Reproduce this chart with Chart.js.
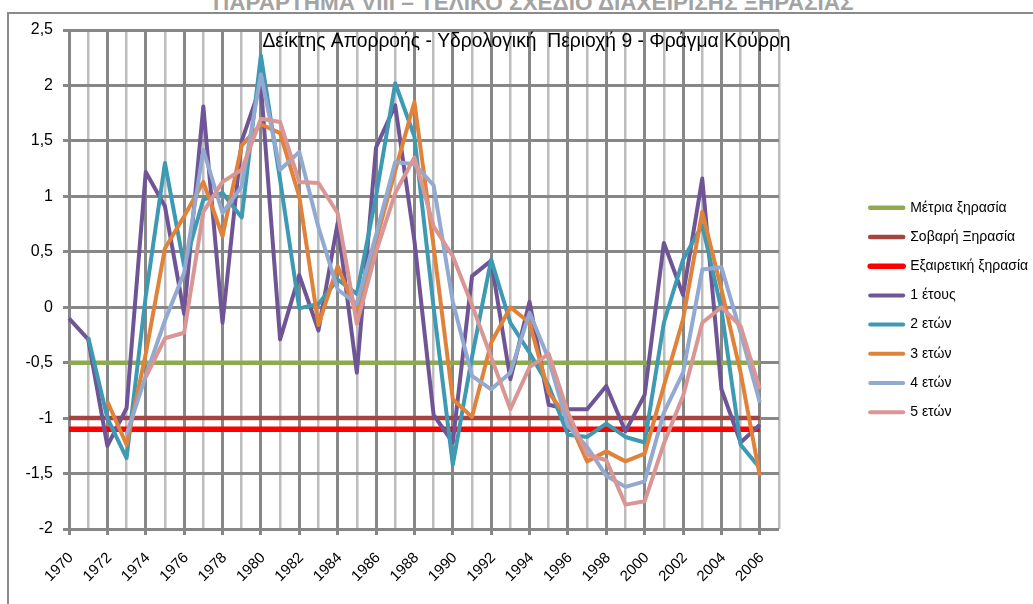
<!DOCTYPE html>
<html>
<head>
<meta charset="utf-8">
<script src="https://cdn.jsdelivr.net/npm/chart.js@4.4.1/dist/chart.umd.min.js"></script>
<style>
  html, body { margin: 0; padding: 0; background: #fff; }
  body { width: 1033px; height: 604px; overflow: hidden; position: relative; }
  #hdr { position: absolute; left: 213px; top: -8px; font: bold 22.5px "Liberation Sans", Arial, sans-serif; line-height: 22px; color: #a3a3a3; white-space: nowrap; }
  #frame { position: absolute; left: 7px; top: 12px; width: 1100px; height: 700px; border: 2px solid #8a8a8a; background: #fff; }
  #c { position: absolute; left: 0; top: 0; }
</style>
</head>
<body>
<div id="hdr">ΠΑΡΑΡΤΗΜΑ VIII – ΤΕΛΙΚΟ ΣΧΕΔΙΟ ΔΙΑΧΕΙΡΙΣΗΣ ΞΗΡΑΣΙΑΣ</div>
<div id="frame"></div>
<canvas id="c" width="1033" height="604"></canvas>
<script>
// ---------- data ----------
const years = ['1970','1971','1972','1973','1974','1975','1976','1977','1978','1979',
               '1980','1981','1982','1983','1984','1985','1986','1987','1988','1989',
               '1990','1991','1992','1993','1994','1995','1996','1997','1998','1999',
               '2000','2001','2002','2003','2004','2005','2006','2007'];

const chartTitle = 'Δείκτης Απορροής - Υδρολογική  Περιοχή 9 - Φράγμα Κούρρη';

const thresholdLabels = ['Μέτρια ξηρασία', 'Σοβαρή Ξηρασία', 'Εξαιρετική ξηρασία'];
const thresholdLevels = [-0.5, -1.0, -1.1];
const thresholdSpan = ['1970', '2006'];

const seriesLabels = ['1 έτους', '2 ετών', '3 ετών', '4 ετών', '5 ετών'];

const idx1 = [-0.10, -0.29, -1.25, -0.91, 1.22, 0.91, -0.06, 1.81, -0.14, 1.50,
              2.00, -0.29, 0.29, -0.21, 0.76, -0.59, 1.44, 1.82, 0.60, -0.97,
              -1.22, 0.28, 0.42, -0.65, 0.05, -0.88, -0.92, -0.92, -0.71, -1.12,
              -0.79, 0.58, 0.11, 1.16, -0.74, -1.22, -1.06];

const idx2 = [null, -0.27, -1.00, -1.36, 0.10, 1.30, 0.37, 0.97, 1.03, 0.81,
              2.27, 1.15, -0.01, 0.03, 0.25, 0.12, 1.00, 2.02, 1.54, 0.00,
              -1.42, -0.45, 0.43, -0.14, -0.41, -0.71, -1.15, -1.17, -1.05, -1.17,
              -1.22, -0.14, 0.43, 0.74, -0.02, -1.24, -1.45];

const idx3 = [null, null, -0.85, -1.24, -0.42, 0.53, 0.82, 1.13, 0.64, 1.46,
              1.65, 1.57, 1.00, -0.16, 0.37, -0.05, 0.60, 1.23, 1.85, 0.55,
              -0.83, -0.99, -0.32, 0.00, -0.14, -0.77, -1.00, -1.39, -1.30, -1.39,
              -1.32, -0.71, -0.11, 0.86, 0.16, -0.59, -1.52];

const idx4 = [null, null, null, -1.15, -0.62, -0.12, 0.31, 1.42, 0.85, 1.09,
              2.10, 1.24, 1.40, 0.72, 0.16, 0.03, 0.65, 1.31, 1.29, 1.10,
              0.05, -0.62, -0.74, -0.59, -0.05, -0.47, -1.07, -1.26, -1.52, -1.62,
              -1.57, -0.95, -0.59, 0.34, 0.36, -0.23, -0.86];

const idx5 = [null, null, null, null, -0.63, -0.28, -0.23, 0.86, 1.13, 1.24,
              1.70, 1.67, 1.13, 1.12, 0.85, -0.15, 0.50, 1.03, 1.35, 0.73,
              0.46, 0.02, -0.45, -0.92, -0.54, -0.42, -0.95, -1.33, -1.38, -1.78,
              -1.75, -1.23, -0.80, -0.14, 0.00, -0.17, -0.74];

const seriesValues = [idx1, idx2, idx3, idx4, idx5];

// ---------- styles ----------
const FONT = '"Liberation Sans", Arial, sans-serif';
const thresholdColors = ['#8eaa50', '#a5443f', '#ff0000'];
const thresholdWidths = [4.5, 4.5, 5.5];
const seriesColors = ['#6f5596', '#3d9ab2', '#e0823a', '#92a9d1', '#d99694'];
const seriesWidth = 4;

const datasets = [];
thresholdLabels.forEach((lab, i) => {
  datasets.push({
    label: lab,
    data: thresholdSpan.map(x => ({ x: x, y: thresholdLevels[i] })),
    borderColor: thresholdColors[i],
    backgroundColor: thresholdColors[i],
    borderWidth: thresholdWidths[i],
    pointRadius: 0,
    fill: false,
    tension: 0
  });
});
seriesLabels.forEach((lab, i) => {
  datasets.push({
    label: lab,
    data: seriesValues[i],
    borderColor: seriesColors[i],
    backgroundColor: seriesColors[i],
    borderWidth: seriesWidth,
    borderJoinStyle: 'round',
    pointRadius: 0,
    fill: false,
    tension: 0,
    spanGaps: false
  });
});
// later series drawn on top (as in the original spreadsheet chart)
datasets.forEach((d, i) => { d.order = datasets.length - i; });

const innerTitle = {
  id: 'innerTitle',
  afterDraw(chart) {
    const c = chart.ctx;
    c.save();
    c.font = '19.3px ' + FONT;
    c.fillStyle = '#000';
    c.textAlign = 'center';
    c.textBaseline = 'middle';
    c.fillText(chartTitle, chart.width / 2 + 10, 42);
    c.restore();
  }
};

const DARK = '#878787', LIGHT = '#bdbdbd';

new Chart(document.getElementById('c'), {
  type: 'line',
  data: { labels: years, datasets: datasets },
  plugins: [innerTitle],
  options: {
    responsive: false,
    animation: false,
    events: [],
    layout: { padding: { top: 30, left: 0, right: 0, bottom: 14 } },
    scales: {
      x: {
        type: 'category',
        offset: false,
        border: { display: false },
        grid: {
          color: c => (c.index % 2 ? LIGHT : DARK),
          lineWidth: c => (c.index % 2 ? 2.5 : 3),
          tickColor: c => (c.index % 2 ? 'rgba(0,0,0,0)' : DARK),
          tickLength: 6
        },
        ticks: {
          autoSkip: false,
          minRotation: 45,
          maxRotation: 45,
          padding: 14,
          labelOffset: 2,
          color: '#000',
          font: { family: FONT, size: 15 },
          callback: (v, i) => (i % 2 === 0 ? years[i] : '')
        },
        afterFit: s => { s.height = 61; }
      },
      y: {
        min: -2,
        max: 2.5,
        border: { display: false },
        grid: { color: DARK, lineWidth: 3, tickLength: 6 },
        ticks: {
          stepSize: 0.5,
          padding: 10,
          color: '#000',
          font: { family: FONT, size: 16 },
          callback: v => String(v).replace('.', ',')
        },
        afterFit: s => { s.width = 69; }
      },
      gap: {
        type: 'linear',
        position: 'right',
        display: true,
        grid: { display: false, drawTicks: false },
        border: { display: false },
        ticks: { display: false },
        afterFit: s => { s.width = 76; }
      }
    },
    plugins: {
      tooltip: { enabled: false },
      title: { display: false },
      legend: {
        position: 'right',
        align: 'center',
        maxWidth: 178,
        labels: {
          usePointStyle: true,
          pointStyle: 'line',
          pointStyleWidth: 33,
          padding: 15.2,
          color: '#000',
          font: { family: FONT, size: 14 },
          generateLabels: chart => Chart.defaults.plugins.legend.labels.generateLabels(chart)
            .map(l => {
              const ds = chart.data.datasets[l.datasetIndex];
              return Object.assign({}, l, {
                lineCap: 'round',
                lineWidth: ds.borderWidth,
                strokeStyle: ds.borderColor,
                fillStyle: ds.borderColor
              });
            })
            .sort((a, b) => a.datasetIndex - b.datasetIndex)
        }
      }
    }
  }
});
</script>
</body>
</html>
